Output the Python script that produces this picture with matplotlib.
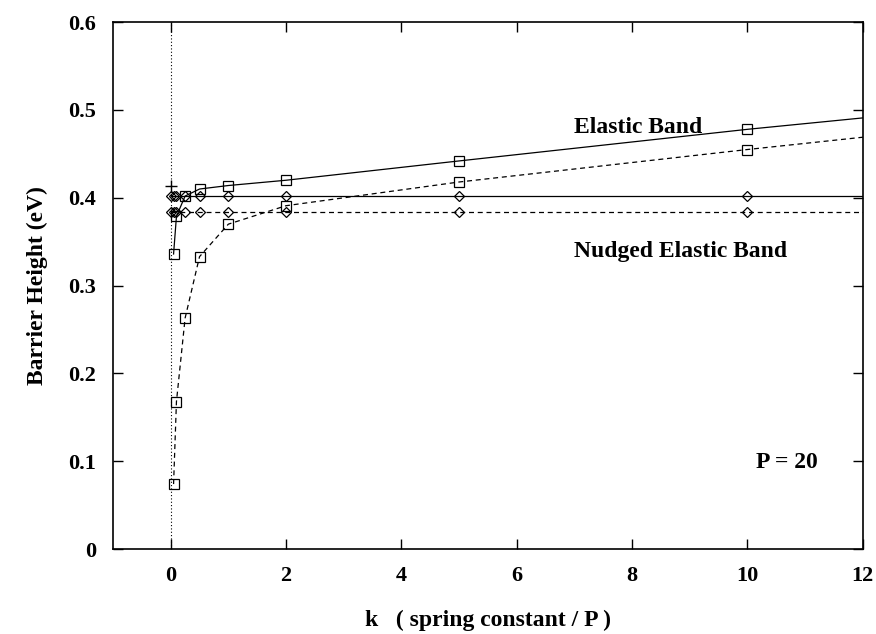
import matplotlib
matplotlib.use("Agg")
import matplotlib.pyplot as plt

# Elastic band, squares (solid: upper curve, dashed: lower curve)
k_sq = [0.05, 0.1, 0.25, 0.5, 1, 2, 5, 10]
eb_solid = [0.336, 0.379, 0.402, 0.410, 0.414, 0.420, 0.442, 0.478]
eb_dashed = [0.074, 0.168, 0.263, 0.333, 0.370, 0.391, 0.418, 0.455]
# values where the lines leave the plot at k = 12
k_edge = 12
eb_solid_edge = 0.491
eb_dashed_edge = 0.469

# Nudged elastic band, diamonds
k_dia = [0.01, 0.05, 0.1, 0.25, 0.5, 1, 2, 5, 10]
neb_solid = [0.402] * len(k_dia)
neb_dashed = [0.3835] * len(k_dia)
neb_solid_edge = 0.402
neb_dashed_edge = 0.3835

# single point at k = 0
k_zero = [0.0]
e_zero = [0.414]

plt.rcParams["font.family"] = ["Liberation Serif", "DejaVu Serif"]
plt.rcParams["font.weight"] = "bold"

fig = plt.figure(figsize=(8.76, 6.34), dpi=100)
ax = fig.add_axes([0.129, 0.134, 0.856, 0.831])

lw = 0.9
ms_sq = 7
ms_dia = 5.5

def series(kk, vals, edge, ls, marker, ms):
    ax.plot(kk + [k_edge], vals + [edge], color="black", lw=lw, ls=ls, zorder=2)
    ax.plot(kk, vals, ls="none", marker=marker, ms=ms, mfc="none",
            mec="black", mew=0.9, zorder=3)

series(k_sq, eb_solid, eb_solid_edge, "-", "s", ms_sq)
series(k_sq, eb_dashed, eb_dashed_edge, (0, (4, 3)), "s", ms_sq)
series(k_dia, neb_solid, neb_solid_edge, "-", "D", ms_dia)
series(k_dia, neb_dashed, neb_dashed_edge, (0, (4, 3)), "D", ms_dia)
ax.plot(k_zero, e_zero, ls="none", marker="+", ms=9, mew=1.0, color="black")

# zero axis
ax.axvline(0, color="black", lw=0.8, ls=(0, (1, 2)), zorder=1)

ax.set_xlim(-1, 12)
ax.set_ylim(0, 0.6)
ax.set_xticks([0, 2, 4, 6, 8, 10, 12])
ax.set_yticks([0, 0.1, 0.2, 0.3, 0.4, 0.5, 0.6])
ax.set_yticklabels(["0", "0.1", "0.2", "0.3", "0.4", "0.5", "0.6"])
ax.tick_params(direction="in", length=7, width=1, top=True, right=True,
               labelsize=16, pad=12)
for sp in ax.spines.values():
    sp.set_linewidth(1.2)

ax.set_xlabel("k   ( spring constant / P )", fontsize=17, fontweight="bold", labelpad=17)
ax.set_ylabel("Barrier Height (eV)", fontsize=17, fontweight="bold", labelpad=15)

ax.text(7.0, 0.4795, "Elastic Band", fontsize=17, fontweight="bold", va="center")
ax.text(7.0, 0.339, "Nudged Elastic Band", fontsize=17, fontweight="bold", va="center")
ax.text(10.15, 0.098, "P = 20", fontsize=17, fontweight="bold", va="center")

fig.savefig("out.png", dpi=100)
